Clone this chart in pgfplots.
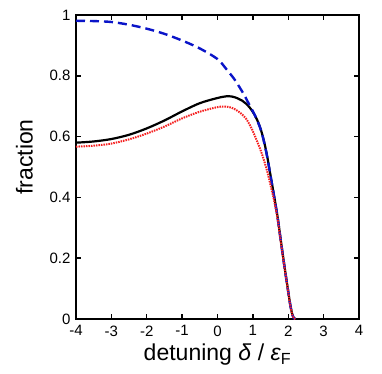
\documentclass[border=0pt]{standalone}
\usepackage{pgfplots}
\pgfplotsset{compat=1.18}
\usepackage{fontspec}
\setmainfont{Liberation Sans}
\definecolor{myred}{HTML}{F52020}
\definecolor{myblue}{HTML}{0A14C8}
\begin{document}
\begin{tikzpicture}
\begin{axis}[
 scale only axis, width=283pt, height=304pt,
 xmin=-4,xmax=4,ymin=0,ymax=1,
 xtick={-4,-3,-2,-1,0,1,2,3,4}, xticklabels={-4,-3,-2,-1,0,1,2,3,4},
 ytick={0,0.2,0.4,0.6,0.8,1}, yticklabels={0,0.2,0.4,0.6,0.8,1},
 tick align=inside, major tick length=5pt,
 tick style={black, line width=1.5pt},
 axis line style={line width=2pt},
 ticklabel style={font=\fontsize{15}{18}\selectfont},
 xticklabel style={yshift=-3pt},
 yticklabel style={xshift=-2pt},
 xlabel={detuning \textit{δ} / \textit{ε}\textsubscript{F}},
 ylabel={fraction},
 label style={font=\fontsize{23}{27}\selectfont},
 xlabel style={yshift=-1pt},
 ylabel style={yshift=10pt, xshift=10pt},
]
\addplot[black, line width=2.2pt, smooth] coordinates {
(-4,0.580) (-3.5,0.584) (-3,0.592) (-2.5,0.606) (-2,0.627) (-1.5,0.653) (-1,0.683) (-0.5,0.710) (0,0.727) (0.3,0.733) (0.5,0.729) (0.7,0.718) (0.8,0.709) (0.9,0.697) (1.0,0.681) (1.1,0.660) (1.2,0.632) (1.3,0.592) (1.4,0.538) (1.5,0.472) (1.6,0.405) (1.7,0.335) (1.8,0.250) (1.9,0.168) (2.0,0.090) (2.05,0.052) (2.1,0.022) (2.15,0.005) (2.2,0)};
\addplot[black, line width=2.2pt] coordinates {(2.2,0) (4,0)};
\addplot[myblue, line width=2.4pt, dash pattern=on 9pt off 5pt, smooth] coordinates {
(-4,0.981) (-3.5,0.980) (-3,0.977) (-2.5,0.968) (-2,0.955) (-1.5,0.938) (-1,0.916) (-0.5,0.89) (0,0.855) (0.25,0.822) (0.5,0.785) (0.75,0.738) (0.85,0.716) (0.95,0.694) (1.05,0.672) (1.1,0.659) (1.2,0.631) (1.3,0.590) (1.4,0.536) (1.5,0.470) (1.6,0.403) (1.7,0.333) (1.8,0.248) (1.9,0.166) (2.0,0.089) (2.05,0.051) (2.1,0.021) (2.15,0.004) (2.2,0)};
\addplot[myred, line width=2pt, dash pattern=on 1.5pt off 1pt, smooth] coordinates {
(-4,0.567) (-3.5,0.570) (-3,0.577) (-2.5,0.591) (-2,0.610) (-1.5,0.633) (-1,0.660) (-0.5,0.682) (0,0.697) (0.2,0.699) (0.4,0.695) (0.6,0.682) (0.8,0.660) (0.95,0.630) (1.1,0.590) (1.25,0.545) (1.4,0.488) (1.5,0.440) (1.6,0.390) (1.7,0.328) (1.8,0.245) (1.9,0.165) (2.0,0.088) (2.05,0.050) (2.1,0.020) (2.15,0.004) (2.2,0)};
\end{axis}
\path ([xshift=-76pt,yshift=-54pt]current axis.south west) rectangle ([xshift=23pt,yshift=15pt]current axis.north east);
\end{tikzpicture}
\end{document}
